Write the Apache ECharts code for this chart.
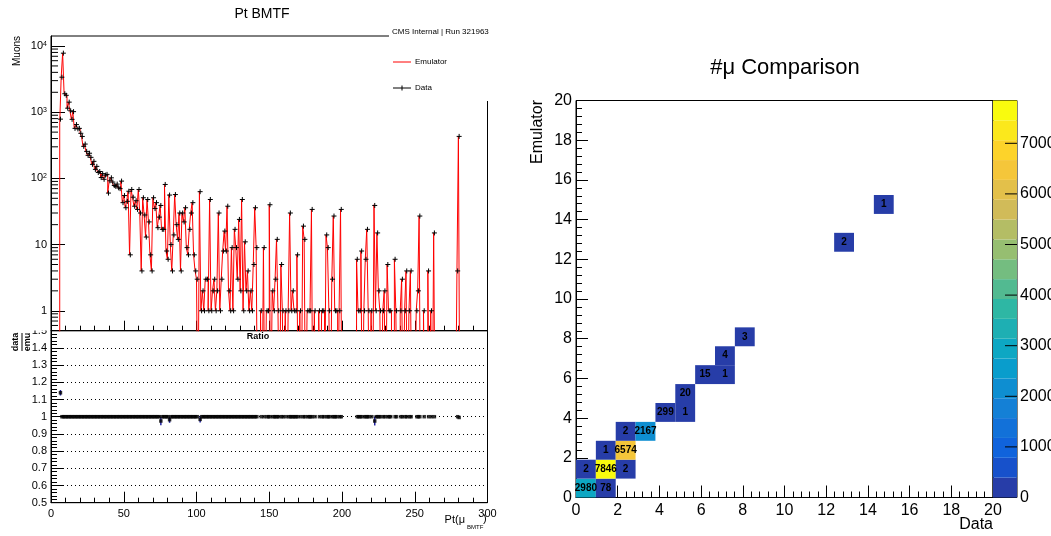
<!DOCTYPE html>
<html>
<head>
<meta charset="utf-8">
<script src="https://cdn.jsdelivr.net/npm/echarts@6/dist/echarts.min.js"></script>
<style>
html, body { margin: 0; padding: 0; background: #fff; }
#chart { width: 1051px; height: 536px; }
</style>
</head>
<body>
<div id="chart"></div>
<script>
// emulator counts in 1 GeV bins, 0..300
var emuCounts = [
    0, 0, 0, 0, 0, 0, 690, 3380, 7800, 1900, 1800, 1150, 1420, 1050, 780, 1020, 570, 650, 560, 570,
    480, 430, 305, 330, 256, 223, 240, 208, 163, 181, 137, 152, 123, 127, 103, 118, 97, 112, 115, 60,
    92, 102, 88, 78, 76, 82, 72, 70, 91, 43, 55, 36, 45, 64, 7, 68, 52, 38, 46, 34,
    68, 30, 4, 51, 28, 13, 48, 22, 7, 4, 51, 35, 43, 18, 26, 40, 17, 17, 81, 8,
    6, 57, 10, 4, 14, 57, 20, 12, 30, 4, 30, 22, 36, 9, 7, 17, 30, 43, 7, 4,
    3, 0, 64, 1, 2, 1, 3, 3, 1, 48, 1, 2, 3, 1, 2, 30, 1, 3, 8, 16,
    8, 38, 2, 1, 9, 1, 17, 9, 3, 24, 2, 48, 1, 11, 2, 4, 1, 2, 1, 5,
    36, 9, 0, 0, 1, 0, 9, 0, 1, 1, 40, 0, 2, 1, 3, 12, 1, 0, 5, 1,
    0, 1, 0, 1, 30, 1, 2, 1, 1, 7, 0, 1, 0, 19, 12, 0, 1, 1, 1, 34,
    0, 1, 0, 0, 1, 0, 1, 1, 0, 14, 9, 1, 0, 3, 27, 1, 1, 0, 1, 34,
    0, 0, 0, 0, 0, 0, 0, 0, 0, 0, 6, 1, 1, 8, 0, 1, 6, 17, 1, 0,
    1, 0, 40, 1, 15, 2, 1, 0, 1, 2, 0, 5, 1, 1, 0, 0, 6, 1, 0, 0,
    1, 3, 0, 1, 4, 0, 1, 4, 0, 0, 0, 1, 2, 27, 0, 0, 1, 0, 0, 4,
    0, 1, 0, 15, 0, 0, 0, 0, 0, 0, 0, 0, 0, 0, 0, 0, 0, 0, 0, 4,
    433, 0, 0, 0, 0, 0, 0, 0, 0, 0, 0, 0, 0, 0, 0, 0, 0, 0, 0, 0
];
// bins where data differs from emulator
var dataDiffBins = [6, 75, 81, 102, 222, 280];
var dataDiffCounts = [786, 39, 56, 63, 39, 431];
var ratioErrBins = [6, 75, 81, 102, 222];
var ratioErrs = [0.016, 0.024, 0.018, 0.018, 0.026];

var logMinorTicks = [0.6, 0.7, 0.8, 0.9, 2, 3, 4, 5, 6, 7, 8, 9, 20, 30, 40, 50, 60, 70, 80, 90,
    200, 300, 400, 500, 600, 700, 800, 900, 2000, 3000, 4000, 5000, 6000, 7000, 8000, 9000];
var paletteTicks = [1000, 2000, 3000, 4000, 5000, 6000, 7000];

// #mu comparison cells: [data bin, emulator bin, entries]
var muCells = [
    [0, 0, 2980], [1, 0, 78],
    [0, 1, 2], [1, 1, 7846], [2, 1, 2],
    [1, 2, 1], [2, 2, 6574],
    [2, 3, 2], [3, 3, 2167],
    [4, 4, 299], [5, 4, 1],
    [5, 5, 20],
    [6, 6, 15], [7, 6, 1],
    [7, 7, 4],
    [8, 8, 3],
    [13, 13, 2],
    [15, 15, 1]
];
var muBins = 21, muRange = 20;
var zMax = 7846, nContours = 20;

// ROOT kBird palette
var birdStops = [0, 0.125, 0.25, 0.375, 0.5, 0.625, 0.75, 0.875, 1];
var birdR = [0.2082, 0.0592, 0.0780, 0.0232, 0.1802, 0.5301, 0.8186, 0.9956, 0.9764];
var birdG = [0.1664, 0.3599, 0.5041, 0.6419, 0.7178, 0.7492, 0.7328, 0.7862, 0.9832];
var birdB = [0.5293, 0.8684, 0.8385, 0.7914, 0.6425, 0.4662, 0.3499, 0.1968, 0.0539];
function bird(t) {
    var k = 0;
    while (k < birdStops.length - 2 && t > birdStops[k + 1]) k++;
    var f = (t - birdStops[k]) / (birdStops[k + 1] - birdStops[k]);
    var c = function (a) { return Math.round(255 * (a[k] + f * (a[k + 1] - a[k]))); };
    return 'rgb(' + c(birdR) + ',' + c(birdG) + ',' + c(birdB) + ')';
}

var FONT = '"Liberation Sans", Arial, sans-serif';
var step = zMax / nContours;
var pieces = [], bands = [];
for (var i = 0; i < nContours; i++) {
    var col = bird(Math.floor((i + 0.99) * 255 / nContours) / 254);
    var pc = { gte: i * step, color: col };
    if (i < nContours - 1) pc.lt = (i + 1) * step;
    pieces.push(pc);
    bands.push([i * step, (i + 1) * step, (i + 0.5) * step]);
}

var emuLine = emuCounts.map(function (v, i) { return [i, v > 0 ? v : 0.01]; });
emuLine.push([300, 0.01]);
var dataCounts = emuCounts.slice();
dataDiffBins.forEach(function (b, k) { dataCounts[b] = dataDiffCounts[k]; });
var dataPts = [], ratioPts = [];
dataCounts.forEach(function (v, i) {
    if (v > 0) dataPts.push([i + 0.5, v]);
    if (v > 0 && emuCounts[i] > 0) ratioPts.push([i + 0.5, v / emuCounts[i]]);
});
var ratioErrPts = ratioErrBins.map(function (b, k) {
    return [b + 0.5, dataCounts[b] / emuCounts[b], ratioErrs[k]];
});

function blackAxis(o) {
    var base = {
        axisLine: { show: true, lineStyle: { color: '#000', width: 1 } },
        splitLine: { show: false },
        axisLabel: { color: '#000', fontFamily: FONT }
    };
    return Object.assign(base, o);
}
function frame(o) {
    return Object.assign({ show: true, borderColor: '#000', borderWidth: 1, containLabel: false, outerBoundsMode: 'none' }, o);
}

var chart = echarts.init(document.getElementById('chart'));
chart.setOption({
    animation: false,
    textStyle: { fontFamily: FONT },
    grid: [
        frame({ left: 51, top: 36, width: 436.5, height: 294.7 }),
        frame({ left: 51, top: 330.7, width: 436.5, height: 172 }),
        frame({ left: 576, top: 100.5, width: 417, height: 397 }),
        frame({ left: 993, top: 100.5, width: 24, height: 397 })
    ],
    xAxis: [
        blackAxis({ gridIndex: 0, type: 'value', min: 0, max: 300, interval: 50,
            axisTick: { inside: true, length: 10, lineStyle: { color: '#000' } },
            minorTick: { show: true, splitNumber: 5, length: 5, lineStyle: { color: '#000' } },
            axisLabel: { show: false } }),
        blackAxis({ gridIndex: 1, type: 'value', min: 0, max: 300, interval: 50,
            axisTick: { inside: true, length: 11, lineStyle: { color: '#000' } },
            minorTick: { show: true, splitNumber: 5, length: 5, lineStyle: { color: '#000' } },
            axisLabel: { color: '#000', fontSize: 11, margin: 6, fontFamily: FONT } }),
        blackAxis({ gridIndex: 2, type: 'value', min: 0, max: 20, interval: 2,
            axisTick: { inside: true, length: 12, lineStyle: { color: '#000' } },
            minorTick: { show: true, splitNumber: 5, length: 6, lineStyle: { color: '#000' } },
            axisLabel: { color: '#000', fontSize: 16, margin: 5, fontFamily: FONT } }),
        { gridIndex: 3, type: 'value', min: 0, max: 1, show: false }
    ],
    yAxis: [
        blackAxis({ gridIndex: 0, type: 'log', logBase: 10, min: 0.5, max: 14170,
            axisTick: { inside: true, length: 14, lineStyle: { color: '#000' } },
            axisLabel: {
                color: '#000', fontSize: 11, margin: 4, fontFamily: FONT,
                showMinLabel: false, showMaxLabel: false,
                formatter: function (v) {
                    var lg = Math.log10(v), e = Math.round(lg);
                    if (Math.abs(lg - e) > 1e-6) return '';
                    if (e === 0) return '1';
                    if (e === 1) return '10';
                    return '10{sup|' + e + '}';
                },
                rich: { sup: { fontSize: 7, verticalAlign: 'top', fontFamily: FONT, color: '#000' } }
            } }),
        blackAxis({ gridIndex: 1, type: 'value', min: 0.5, max: 1.5, interval: 0.1,
            axisTick: { inside: true, length: 12, lineStyle: { color: '#000' } },
            minorTick: { show: true, splitNumber: 5, length: 6, lineStyle: { color: '#000' } },
            splitLine: { show: true, lineStyle: { color: '#000', type: [1, 3], width: 1 } },
            axisLabel: { color: '#000', fontSize: 11, margin: 4, fontFamily: FONT } }),
        blackAxis({ gridIndex: 2, type: 'value', min: 0, max: 20, interval: 2,
            axisTick: { inside: true, length: 12, lineStyle: { color: '#000' } },
            minorTick: { show: true, splitNumber: 5, length: 6, lineStyle: { color: '#000' } },
            axisLabel: { color: '#000', fontSize: 16, margin: 4, fontFamily: FONT } }),
        blackAxis({ gridIndex: 3, type: 'value', position: 'right', min: 0, max: zMax, interval: 1000,
            axisTick: { show: false },
            axisLabel: { color: '#000', fontSize: 16, margin: 3, fontFamily: FONT,
                formatter: function (v) { return v % 1000 === 0 ? String(v) : ''; } } })
    ],
    visualMap: {
        type: 'piecewise', show: false, seriesIndex: [5, 6], dimension: 2, pieces: pieces
    },
    series: [
        {
            type: 'line', xAxisIndex: 0, yAxisIndex: 0, data: emuLine, step: 'end',
            showSymbol: false, clip: true, lineStyle: { color: '#ff0000', width: 1 }, z: 2
        },
        {
            type: 'custom', xAxisIndex: 0, yAxisIndex: 0, data: dataPts, clip: true, z: 3,
            renderItem: function (params, api) {
                var p = api.coord([api.value(0), api.value(1)]);
                return { type: 'group', children: [
                    { type: 'line', shape: { x1: p[0] - 2.5, y1: p[1], x2: p[0] + 2.5, y2: p[1] }, style: { stroke: '#000', lineWidth: 1 } },
                    { type: 'line', shape: { x1: p[0], y1: p[1] - 2.5, x2: p[0], y2: p[1] + 2.5 }, style: { stroke: '#000', lineWidth: 1 } }
                ] };
            }
        },
        {
            type: 'custom', xAxisIndex: 0, yAxisIndex: 0, z: 3,
            data: logMinorTicks.map(function (v) { return [0, v]; }),
            renderItem: function (params, api) {
                var p = api.coord([0, api.value(1)]);
                return { type: 'line', shape: { x1: p[0], y1: p[1], x2: p[0] + 7, y2: p[1] }, style: { stroke: '#000', lineWidth: 1 } };
            }
        },
        {
            type: 'custom', xAxisIndex: 1, yAxisIndex: 1, data: ratioErrPts, z: 3,
            renderItem: function (params, api) {
                var a = api.coord([api.value(0), api.value(1) - api.value(2)]);
                var b = api.coord([api.value(0), api.value(1) + api.value(2)]);
                return { type: 'line', shape: { x1: a[0], y1: a[1], x2: b[0], y2: b[1] }, style: { stroke: '#2020a0', lineWidth: 1.5 } };
            }
        },
        {
            type: 'scatter', xAxisIndex: 1, yAxisIndex: 1, data: ratioPts, symbol: 'rect', symbolSize: 3.5,
            itemStyle: { color: '#000' }, z: 4
        },
        {
            type: 'custom', xAxisIndex: 2, yAxisIndex: 2, data: muCells, z: 2,
            renderItem: function (params, api) {
                var w = muRange / muBins;
                var i = api.value(0), j = api.value(1);
                var p0 = api.coord([i * w, (j + 1) * w]);
                var p1 = api.coord([(i + 1) * w, j * w]);
                return {
                    type: 'rect',
                    shape: { x: p0[0], y: p0[1], width: p1[0] - p0[0], height: p1[1] - p0[1] },
                    style: { fill: api.visual('color') },
                    textContent: { type: 'text', style: { text: String(api.value(2)), font: 'bold 10px ' + FONT, fill: '#000' } },
                    textConfig: { position: 'inside' }
                };
            }
        },
        {
            type: 'custom', xAxisIndex: 3, yAxisIndex: 3, data: bands, z: 1,
            renderItem: function (params, api) {
                var p0 = api.coord([0, api.value(1)]);
                var p1 = api.coord([1, api.value(0)]);
                return {
                    type: 'rect',
                    shape: { x: p0[0], y: p0[1], width: p1[0] - p0[0], height: p1[1] - p0[1] },
                    style: { fill: api.visual('color') }
                };
            }
        },
        {
            type: 'custom', xAxisIndex: 3, yAxisIndex: 3, z: 3,
            data: paletteTicks.map(function (v) { return [1, v]; }),
            renderItem: function (params, api) {
                var p = api.coord([1, api.value(1)]);
                return { type: 'line', shape: { x1: p[0] - 12, y1: p[1], x2: p[0], y2: p[1] }, style: { stroke: '#000', lineWidth: 1 } };
            }
        }
    ],
    graphic: [
        { type: 'text', x: 262, y: 14, z: 100, style: { text: 'Pt BMTF', font: '14px ' + FONT, fill: '#000', align: 'center', verticalAlign: 'middle' } },
        { type: 'rect', z: 90, shape: { x: 389, y: 26, width: 112, height: 75 }, style: { fill: '#fff' } },
        { type: 'text', x: 392, y: 32, z: 100, style: { text: 'CMS Internal | Run 321963', font: '8px ' + FONT, fill: '#000', verticalAlign: 'middle' } },
        { type: 'line', z: 100, shape: { x1: 393, y1: 62, x2: 411, y2: 62 }, style: { stroke: '#ff0000', lineWidth: 1 } },
        { type: 'text', x: 415, y: 62, z: 100, style: { text: 'Emulator', font: '8px ' + FONT, fill: '#000', verticalAlign: 'middle' } },
        { type: 'line', z: 100, shape: { x1: 393, y1: 88, x2: 411, y2: 88 }, style: { stroke: '#000', lineWidth: 1 } },
        { type: 'line', z: 100, shape: { x1: 402, y1: 85.5, x2: 402, y2: 90.5 }, style: { stroke: '#000', lineWidth: 1 } },
        { type: 'text', x: 415, y: 88, z: 100, style: { text: 'Data', font: '8px ' + FONT, fill: '#000', verticalAlign: 'middle' } },
        { type: 'text', x: 17, y: 36, rotation: Math.PI / 2, z: 100, style: { text: 'Muons', font: '10px ' + FONT, fill: '#000', align: 'right', verticalAlign: 'middle' } },
        { type: 'rect', z: 90, shape: { x: 25, y: 321, width: 25, height: 9.5 }, style: { fill: '#fff' } },
        { type: 'group', x: 22, y: 342, rotation: Math.PI / 2, z: 100, children: [
            { type: 'text', x: 0, y: -1.5, z: 100, style: { text: 'data', font: 'bold 9px ' + FONT, fill: '#000', align: 'center', verticalAlign: 'bottom' } },
            { type: 'line', z: 100, shape: { x1: -9, y1: 0, x2: 9, y2: 0 }, style: { stroke: '#000', lineWidth: 1 } },
            { type: 'text', x: 0, y: 1, z: 100, style: { text: 'emu', font: 'bold 9px ' + FONT, fill: '#000', align: 'center', verticalAlign: 'top' } }
        ] },
        { type: 'text', x: 258, y: 337, z: 100, style: { text: 'Ratio', font: 'bold 9px ' + FONT, fill: '#000', align: 'center', verticalAlign: 'middle' } },
        { type: 'text', x: 465, y: 520, z: 100, style: { text: 'Pt(\u03bc', font: '11px ' + FONT, fill: '#000', align: 'right', verticalAlign: 'middle' } },
        { type: 'text', x: 467, y: 527, z: 100, style: { text: 'BMTF', font: '6px ' + FONT, fill: '#000', verticalAlign: 'middle' } },
        { type: 'text', x: 483, y: 519, z: 100, style: { text: ')', font: '11px ' + FONT, fill: '#000', verticalAlign: 'middle' } },
        { type: 'text', x: 785, y: 68, z: 100, style: { text: '#\u03bc Comparison', font: '22px ' + FONT, fill: '#000', align: 'center', verticalAlign: 'middle' } },
        { type: 'text', x: 993, y: 525, z: 100, style: { text: 'Data', font: '16px ' + FONT, fill: '#000', align: 'right', verticalAlign: 'middle' } },
        { type: 'text', x: 538, y: 100, rotation: Math.PI / 2, z: 100, style: { text: 'Emulator', font: '16px ' + FONT, fill: '#000', align: 'right', verticalAlign: 'middle' } }
    ]
});
</script>
</body>
</html>
